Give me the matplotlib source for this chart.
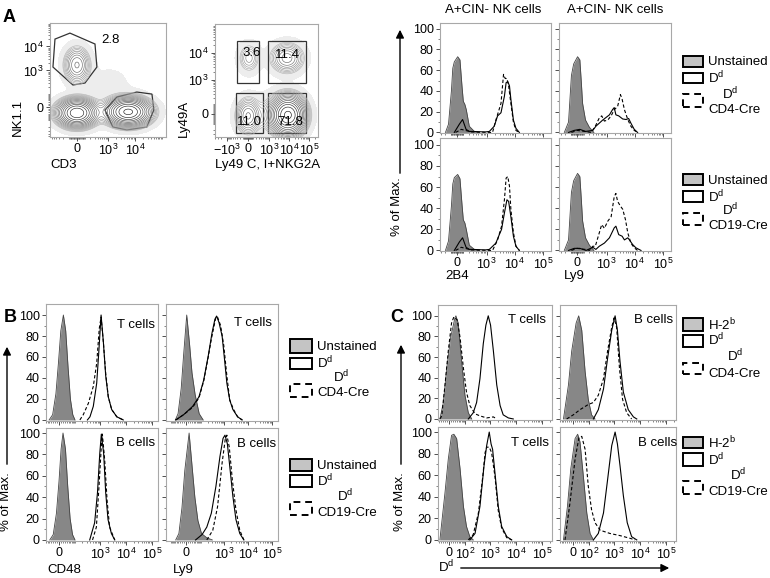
import matplotlib
matplotlib.use("Agg")
import matplotlib.pyplot as plt
from matplotlib.patches import Rectangle, Polygon, FancyArrowPatch
import numpy as np

plt.rcParams["font.family"] = ["Liberation Sans", "DejaVu Sans"]
plt.rcParams["mathtext.fontset"] = "custom"
plt.rcParams["mathtext.rm"] = "Liberation Sans"
plt.rcParams["mathtext.it"] = "Liberation Sans:italic"
plt.rcParams["mathtext.bf"] = "Liberation Sans:bold"
plt.rcParams["font.size"] = 9

# ---------------- data: dot plots (population centres in channel units, spread in decades) ----
DOT1_POP_X = [0, 0, 5560, 1105]
DOT1_POP_Y = [1690, -36, -29, 235]
DOT1_SD_X = [0.26, 0.38, 0.43, 0.6]
DOT1_SD_Y = [0.4, 0.3, 0.3, 0.6]
DOT1_WEIGHT = [9, 40, 50, 1.5]
NK_GATE_X = [-447, -89, 311, 371, 103, -49, -535]
NK_GATE_Y = [20300, 36000, 12650, 1390, 297, 244, 1390]
T_GATE_X = [756, 2110, 11600, 42200, 49600, 27200, 4950, 1490]
T_GATE_Y = [-17.5, 67, 119, 95, -17.5, -200, -270, -200]

DOT2_POP_X = [0, 9000, 21, 8030, 891]
DOT2_POP_Y = [-18, -10, 6460, 6460, 0]
DOT2_SD_X = [0.33, 0.45, 0.3, 0.45, 0.6]
DOT2_SD_Y = [0.35, 0.37, 0.3, 0.3, 0.45]
DOT2_WEIGHT = [11.0, 71.8, 3.6, 11.4, 3]
QUAD_X0 = [-295, 891, -340, 891]
QUAD_X1 = [295, 71600, 490, 71600]
QUAD_Y0 = [773, 773, -264, -264]
QUAD_Y1 = [27600, 27600, 320, 320]
QUAD_LABELS = ["3.6", "11.4", "11.0", "71.8"]

# ---------------- data: panel A histograms (2B4 / Ly9 on A+CIN- NK cells) ----------------
A_2B4_CD4_UNST_X = [-196, -135, -85, -63, -40, 10, 44, 75, 97, 124, 150, 213, 350, 540]
A_2B4_CD4_UNST_Y = [0, 8, 40, 62, 68, 73, 70, 45, 30, 27, 22, 6, 1, 0]
A_2B4_CD4_DD_X = [-40, 35, 85, 146, 215, 302, 890, 1255, 1875, 2470, 3260, 4320, 4960, 5680, 6520, 7320, 9000, 11070, 14630]
A_2B4_CD4_DD_Y = [0, 8, 12.5, 3, 1, 1, 0.5, 1, 6, 16, 19, 35, 48, 49, 45, 32, 12, 4, 0]
A_2B4_CD4_CRE_X = [-21, 63, 135, 255, 1630, 2150, 3260, 4020, 4610, 5300, 6090, 7320, 9000, 11070, 14270]
A_2B4_CD4_CRE_Y = [0, 3, 2, 0.5, 0, 12, 28, 56, 52, 52, 45, 28, 10, 2, 0]

A_LY9_CD4_UNST_X = [-222, -135, -85, -50, 8, 42, 63, 85, 135, 215, 335]
A_LY9_CD4_UNST_Y = [0, 10, 55, 66, 73, 70, 50, 28, 12, 5, 0]
A_LY9_CD4_DD_X = [-135, -42, 42, 135, 302, 400, 725, 1265, 1630, 1875, 2150, 2710, 3760, 4960, 6090, 7320, 9640, 12700]
A_LY9_CD4_DD_Y = [0, 2, 3, 1, 2, 6, 12, 17, 22, 24, 17, 16, 13, 12.5, 13.5, 9, 3, 0]
A_LY9_CD4_CRE_X = [-85, 0, 130, 255, 381, 540, 664, 832, 1100, 1455, 1875, 2470, 3115, 3580, 4320, 5680, 7320, 9640, 12700]
A_LY9_CD4_CRE_Y = [0, 2, 1, 0, 6, 14, 16, 11, 12, 16, 22, 25, 36.5, 32, 22, 12.5, 6, 2, 0]

A_2B4_CD19_UNST_X = [-196, -135, -85, -63, -40, 10, 44, 75, 97, 124, 150, 213, 350, 540]
A_2B4_CD19_UNST_Y = [0, 9, 42, 63, 69, 72, 68, 44, 29, 26, 20, 5, 1, 0]
A_2B4_CD19_DD_X = [-40, 35, 85, 146, 215, 302, 890, 1255, 2150, 2844, 3420, 4320, 5300, 6090, 7320, 9000, 11070, 14630]
A_2B4_CD19_DD_Y = [0, 8, 12, 3, 1, 1, 0.5, 1, 7, 15, 20, 35.5, 48, 46.5, 32, 13.5, 4, 0]
A_2B4_CD19_CRE_X = [-21, 63, 135, 255, 1630, 2470, 3420, 4320, 4960, 5680, 6520, 7320, 9000, 11070, 14630]
A_2B4_CD19_CRE_Y = [0, 3, 2, 0.5, 0, 10, 23, 48, 68.5, 70, 61, 39, 17, 4, 0]

A_LY9_CD19_UNST_X = [-222, -135, -85, -50, 8, 42, 63, 85, 135, 215, 335]
A_LY9_CD19_UNST_Y = [0, 10, 55, 66, 73, 70, 50, 28, 12, 5, 0]
A_LY9_CD19_DD_X = [-135, -42, 42, 146, 302, 400, 540, 832, 1265, 1875, 2150, 2710, 3580, 4320, 5680, 6520, 8400, 11070, 16760]
A_LY9_CD19_DD_Y = [0, 2, 2, 0, 3, 1, 4, 7, 12, 21.4, 23, 15, 13.5, 10, 12, 10, 5.7, 2.5, 0]
A_LY9_CD19_CRE_X = [-85, 0, 130, 215, 302, 381, 540, 664, 832, 1100, 1455, 1875, 2150, 2470, 3115, 3760, 4720, 5680, 7320, 9640, 12700]
A_LY9_CD19_CRE_Y = [0, 2, 1, 0, 4, 4, 16.7, 24.5, 21, 27.7, 32, 51, 54, 46.5, 42, 39, 29, 16.7, 7, 2.5, 0]

# ---------------- data: panel B histograms (CD48 / Ly9) ----------------
B_CD48_T_UNST_X = [-50, -30, -14, -2.3, 8.1, 20, 31.7, 45, 60, 78, 98]
B_CD48_T_UNST_Y = [0, 5, 25, 55, 85, 100, 85, 50, 20, 5, 0]
B_CD48_T_DD_X = [313, 394, 532, 721, 866, 1067, 1311, 1614, 2031, 2742, 4345, 7725]
B_CD48_T_DD_Y = [0, 3, 13, 35, 64, 100, 74, 42, 22, 10, 3, 0]
B_CD48_T_CRE_X = [157, 215, 343, 532, 721, 906, 1067, 1311, 1614, 2031, 2742, 4345, 7725]
B_CD48_T_CRE_Y = [0, 5, 16, 32, 54, 87, 98, 74, 44, 22, 10, 3, 0]

B_LY9_T_UNST_X = [-61, -42, -24, -11.6, 3.5, 17.6, 30.4, 50, 82, 126]
B_LY9_T_UNST_Y = [0, 6, 30, 62, 100, 72, 45, 24, 6, 0]
B_LY9_T_DD_X = [-58, -11.6, 34.5, 80, 133, 210, 305, 404, 475, 599, 810, 1019, 1281, 1690, 2280, 3613, 5600]
B_LY9_T_DD_Y = [0, 5, 13, 22, 38, 61, 83, 96, 99, 93, 80, 58, 35, 19, 10, 3, 0]
B_LY9_T_CRE_X = [-58, -11.6, 34.5, 80, 133, 210, 285, 444, 521, 700, 950, 1281, 1690, 2440, 3613, 5600]
B_LY9_T_CRE_Y = [0, 5, 12, 21, 37, 60, 77, 98, 98, 90, 71, 42, 19, 10, 3, 0]

B_CD48_B_UNST_X = [-46, -27, -11.6, 0, 9.3, 18.2, 30.4, 43, 58, 76, 98]
B_CD48_B_UNST_Y = [0, 5, 25, 55, 85, 100, 85, 50, 20, 5, 0]
B_CD48_B_DD_X = [385, 599, 772, 950, 1092, 1342, 1614, 1985, 2678, 3613]
B_CD48_B_DD_Y = [0, 16, 44, 81, 99, 81, 44, 19, 6, 0]
B_CD48_B_CRE_X = [497, 700, 886, 1092, 1195, 1471, 1811, 2280, 3613]
B_CD48_B_CRE_Y = [0, 12, 50, 88, 99, 75, 38, 12, 0]

B_LY9_B_UNST_X = [-58, -37, -20, -5.8, 15.2, 30.4, 48, 71, 106, 182, 313]
B_LY9_B_UNST_Y = [0, 6, 30, 65, 100, 70, 40, 18, 6, 2, 0]
B_LY9_B_DD_X = [53, 112, 182, 285, 444, 657, 886, 1067, 1342, 1690, 2280, 3076, 4447, 6576]
B_LY9_B_DD_Y = [0, 5, 12, 25, 50, 78, 95, 98, 90, 69, 41, 19, 6, 0]
B_LY9_B_CRE_X = [182, 328, 521, 810, 1092, 1281, 1614, 2177, 3076, 4447, 6576]
B_LY9_B_CRE_Y = [0, 9, 31, 72, 94, 98, 87, 56, 28, 9, 0]

# ---------------- data: panel C histograms (Dd on T / B cells) ----------------
C_T_CD4_UNST_X = [-45, -26, -10, 7.5, 27.8, 33, 46, 69, 98, 136, 187]
C_T_CD4_UNST_Y = [0, 16, 49, 79, 98, 100, 93, 56, 23, 6, 0]
C_T_CD4_DD_X = [136, 215, 292, 394, 532, 672, 829, 1019, 1311, 1770, 2387, 3147, 4990, 7725]
C_T_CD4_DD_Y = [0, 6, 16, 39, 73, 91, 100, 91, 66, 33, 13, 4, 1, 0]
C_T_CD4_CRE_X = [-45, -34.5, -18, -3, 11.6, 22.6, 40, 58, 84, 114, 157, 253, 394, 721, 1311, 1770]
C_T_CD4_CRE_Y = [0, 3, 33, 66, 93, 99, 96, 79, 49, 26, 13, 5, 3, 1, 2, 0]

C_B_CD4_UNST_X = [-48, -21, -5.8, 14, 26.4, 43, 65, 91, 126, 174]
C_B_CD4_UNST_Y = [0, 33, 66, 93, 100, 86, 46, 19, 4, 0]
C_B_CD4_DD_X = [150, 236, 377, 546, 790, 1067, 1311, 1651, 2228, 3450, 5470, 7380]
C_B_CD4_DD_Y = [0, 9, 29, 59, 86, 100, 86, 56, 26, 9, 2, 0]
C_B_CD4_CRE_X = [-30, 1.2, 33, 91, 150, 236, 377, 546, 790, 971, 1223, 1577, 2079, 3006, 4657]
C_B_CD4_CRE_Y = [0, 4, 9, 14, 16, 23, 39, 66, 89, 98, 89, 49, 19, 6, 0]

C_T_CD19_UNST_X = [-45, -18, -3, 11.6, 22.6, 37, 58, 84, 114, 157, 215]
C_T_CD19_UNST_Y = [0, 44, 75, 97, 98, 94, 66, 31, 12.5, 3, 0]
C_T_CD19_DD_X = [157, 253, 394, 570, 721, 906, 1067, 1223, 1505, 2031, 2742, 4345, 6730]
C_T_CD19_DD_Y = [0, 6, 31, 69, 87.5, 100, 89, 84, 62.5, 31, 12.5, 3, 0]
C_T_CD19_CRE_X = [136, 215, 343, 509, 626, 721, 906, 1117, 1505, 2031, 2742, 4345, 6730]
C_T_CD19_CRE_Y = [0, 5, 25, 59, 81, 86, 86, 81, 59, 27, 11, 2, 0]

C_B_CD19_UNST_X = [-48, -26, -10, 9.3, 21.3, 33, 53, 78, 109, 150]
C_B_CD19_UNST_Y = [0, 31, 66, 94, 98, 91, 59, 25, 6, 0]
C_B_CD19_DD_X = [150, 236, 377, 546, 790, 1067, 1311, 1651, 2228, 3147, 4657, 7380]
C_B_CD19_DD_Y = [0, 6, 25, 56, 87.5, 100, 89, 69, 41, 16, 3, 0]
C_B_CD19_CRE_X = [-39, -14, 9.3, 27.8, 43, 65, 91, 126, 174, 279, 672, 1651, 4054, 6280]
C_B_CD19_CRE_Y = [0, 34, 75, 95, 96, 84, 50, 28, 16, 9, 6, 4, 1.5, 0]

Y_TICKS = [0, 20, 40, 60, 80, 100]
LOG_TICKS = [0, 1000, 10000, 100000]
LOG_LABELS = ["0", "$10^3$", "$10^4$", "$10^5$"]
C_TICKS = [0, 100, 1000, 10000, 100000]
C_LABELS = ["0", "$10^2$", "$10^3$", "$10^4$", "$10^5$"]
DD = r"D$^{\mathrm{d}}$"

W, H = 770, 578
fig = plt.figure(figsize=(W / 100, H / 100), dpi=100)
UNST_FILL = "#878787"
SPINE = "#a8a8a8"


def add_box(x0, y0, x1, y1):
    return fig.add_axes([x0 / W, 1 - y1 / H, (x1 - x0) / W, (y1 - y0) / H])


def ftext(x, y, s, **kw):
    kw.setdefault("va", "center")
    kw.setdefault("fontsize", 9.5)
    fig.text(x / W, 1 - y / H, s, **kw)


def to_u(c, w):
    return np.arcsinh(np.asarray(c, dtype=float) / w) / np.log(10)


def to_c(u, w):
    return w * np.sinh(np.asarray(u) * np.log(10))


def minor_list(lo, hi, majors):
    vals = [s * m * 10 ** k for s in (-1, 1) for k in (1, 2, 3, 4, 5) for m in range(1, 10)]
    return sorted(v for v in vals if lo < v < hi and v not in majors)


def style(ax):
    for sp in ax.spines.values():
        sp.set_color(SPINE)
        sp.set_linewidth(0.8)
    ax.tick_params(which="major", length=3, width=0.6, color="#333333", pad=1.5, labelsize=9)
    ax.tick_params(which="minor", length=1.6, width=0.5, color="#555555")


def hist(box, ux, uy, dx, dy, cx, cy, w, xlim, ylim, xt, xtl, left, bottom):
    ax = add_box(*box)
    ax.set_xscale("asinh", linear_width=w)
    ax.fill_between(ux, 0, uy, color=UNST_FILL, lw=0)
    ax.plot(ux, uy, color="#444444", lw=0.6)
    ax.plot(dx, dy, color="black", lw=0.8)
    ax.plot(cx, cy, color="black", lw=0.8, dashes=(3, 2))
    ax.set_xlim(xlim)
    ax.set_ylim(ylim)
    ax.set_xticks(xt)
    ax.set_xticklabels(xtl if bottom else [])
    ax.set_xticks(minor_list(xlim[0], xlim[1], xt), minor=True)
    ax.set_yticks(Y_TICKS)
    ax.set_yticklabels([str(t) for t in Y_TICKS] if left else [])
    ax.set_yticks([10, 30, 50, 70, 90], minor=True)
    style(ax)
    return ax


def dotplot(box, px, py, sx, sy, wt, wx, wy, xlim, ylim):
    ax = add_box(*box)
    ax.set_xscale("asinh", linear_width=wx)
    ax.set_yscale("asinh", linear_width=wy)
    gu = np.linspace(to_u(xlim[0], wx), to_u(xlim[1], wx), 320)
    gv = np.linspace(to_u(ylim[0], wy), to_u(ylim[1], wy), 320)
    U, V = np.meshgrid(gu, gv)
    dens = np.zeros_like(U)
    for x0, y0, a, b, k in zip(px, py, sx, sy, wt):
        dens += k / (a * b) * np.exp(-0.5 * (((U - to_u(x0, wx)) / a) ** 2 + ((V - to_u(y0, wy)) / b) ** 2))
    top = dens.max()
    X, Y = to_c(U, wx), to_c(V, wy)
    ax.contourf(X, Y, dens, levels=[top * 0.006, top * 0.03], colors=["#ededed"])
    levels = top * np.geomspace(0.03, 0.93, 15)
    colors = plt.cm.Greys(np.linspace(0.4, 0.9, 15))
    ax.contour(X, Y, dens, levels=levels, colors=colors, linewidths=0.45)
    ax.set_xlim(xlim)
    ax.set_ylim(ylim)
    style(ax)
    return ax


# ---------------- panel A: dot plots ----------------
ax1 = dotplot((50, 23, 166, 137), DOT1_POP_X, DOT1_POP_Y, DOT1_SD_X, DOT1_SD_Y, DOT1_WEIGHT,
              140, 60, (-693, 140000), (-532, 95000))
ax1.add_patch(Polygon(list(zip(NK_GATE_X, NK_GATE_Y)), closed=True, fill=False, ec="#333333", lw=0.9))
ax1.add_patch(Polygon(list(zip(T_GATE_X, T_GATE_Y)), closed=True, fill=False, ec="#333333", lw=0.9))
ax1.set_xticks([0, 1000, 10000])
ax1.set_xticklabels(["0", "$10^3$", "$10^4$"])
ax1.set_yticks([0, 1000, 10000])
ax1.set_yticklabels(["0", "$10^3$", "$10^4$"])
ax1.set_xticks(minor_list(-693, 140000, [0, 1000, 10000]), minor=True)
ax1.set_yticks(minor_list(-532, 95000, [0, 1000, 10000]), minor=True)
ftext(111, 40, "2.8", ha="center")
ftext(18, 117, "NK1.1", ha="center", rotation=90)
ftext(50, 165, "CD3", ha="left")

ax2 = dotplot((215, 24, 318, 137), DOT2_POP_X, DOT2_POP_Y, DOT2_SD_X, DOT2_SD_Y, DOT2_WEIGHT,
              180, 110, (-4020, 285000), (-383, 118000))
for x0, x1, y0, y1 in zip(QUAD_X0, QUAD_X1, QUAD_Y0, QUAD_Y1):
    ax2.add_patch(Polygon([(x0, y0), (x1, y0), (x1, y1), (x0, y1)], closed=True, fill=False,
                          ec="#333333", lw=0.9))
ax2.set_xticks([-1000, 0, 1000, 10000, 100000])
ax2.set_xticklabels(["$-10^3$", "0", "$10^3$", "$10^4$", "$10^5$"])
ax2.set_yticks([0, 1000, 10000])
ax2.set_yticklabels(["0", "$10^3$", "$10^4$"])
ax2.set_xticks(minor_list(-4020, 285000, [-1000, 0, 1000, 10000, 100000]), minor=True)
ax2.set_yticks(minor_list(-383, 118000, [0, 1000, 10000]), minor=True)
for (lx, ly), lab in zip([(252, 53), (287, 55), (249, 122), (290, 122)], QUAD_LABELS):
    ftext(lx, ly, lab, ha="center")
ftext(184, 118, "Ly49A", ha="center", rotation=90)
ftext(215, 165, "Ly49 C, I+NKG2A", ha="left")

# ---------------- panel A: histograms ----------------
A_XL, A_XR = (-338, 193700), (-371, 193700)
hist((440, 23, 551, 133), A_2B4_CD4_UNST_X, A_2B4_CD4_UNST_Y, A_2B4_CD4_DD_X, A_2B4_CD4_DD_Y,
     A_2B4_CD4_CRE_X, A_2B4_CD4_CRE_Y, 180, A_XL, (-0.5, 105.5), LOG_TICKS, LOG_LABELS, True, False)
hist((559, 23, 671, 133), A_LY9_CD4_UNST_X, A_LY9_CD4_UNST_Y, A_LY9_CD4_DD_X, A_LY9_CD4_DD_Y,
     A_LY9_CD4_CRE_X, A_LY9_CD4_CRE_Y, 180, A_XR, (-0.5, 105.5), LOG_TICKS, LOG_LABELS, False, False)
hist((440, 138, 551, 251), A_2B4_CD19_UNST_X, A_2B4_CD19_UNST_Y, A_2B4_CD19_DD_X, A_2B4_CD19_DD_Y,
     A_2B4_CD19_CRE_X, A_2B4_CD19_CRE_Y, 180, A_XL, (-0.5, 106.5), LOG_TICKS, LOG_LABELS, True, True)
hist((559, 138, 671, 251), A_LY9_CD19_UNST_X, A_LY9_CD19_UNST_Y, A_LY9_CD19_DD_X, A_LY9_CD19_DD_Y,
     A_LY9_CD19_CRE_X, A_LY9_CD19_CRE_Y, 180, A_XR, (-0.5, 106.5), LOG_TICKS, LOG_LABELS, False, True)
ftext(493, 10, "A+CIN- NK cells", ha="center")
ftext(615, 10, "A+CIN- NK cells", ha="center")
ftext(445, 276, "2B4", ha="left")
ftext(564, 276, "Ly9", ha="left")

# ---------------- panel B ----------------
B_XL, B_XR = (-72, 171500), (-168, 176700)
TOP_Y, BOT_Y = (-1, 110.5), (-1, 104.7)
hist((46, 304, 158, 421), B_CD48_T_UNST_X, B_CD48_T_UNST_Y, B_CD48_T_DD_X, B_CD48_T_DD_Y,
     B_CD48_T_CRE_X, B_CD48_T_CRE_Y, 50, B_XL, TOP_Y, LOG_TICKS, LOG_LABELS, True, False)
hist((166, 304, 278, 421), B_LY9_T_UNST_X, B_LY9_T_UNST_Y, B_LY9_T_DD_X, B_LY9_T_DD_Y,
     B_LY9_T_CRE_X, B_LY9_T_CRE_Y, 50, B_XR, TOP_Y, LOG_TICKS, LOG_LABELS, False, False)
hist((46, 428, 158, 541), B_CD48_B_UNST_X, B_CD48_B_UNST_Y, B_CD48_B_DD_X, B_CD48_B_DD_Y,
     B_CD48_B_CRE_X, B_CD48_B_CRE_Y, 50, B_XL, BOT_Y, LOG_TICKS, LOG_LABELS, True, True)
hist((166, 428, 278, 541), B_LY9_B_UNST_X, B_LY9_B_UNST_Y, B_LY9_B_DD_X, B_LY9_B_DD_Y,
     B_LY9_B_CRE_X, B_LY9_B_CRE_Y, 50, B_XR, BOT_Y, LOG_TICKS, LOG_LABELS, False, True)
ftext(155, 325, "T cells", ha="right")
ftext(272, 323, "T cells", ha="right")
ftext(155, 443, "B cells", ha="right")
ftext(276, 444, "B cells", ha="right")
ftext(47, 570, "CD48", ha="left")
ftext(173, 570, "Ly9", ha="left")

# ---------------- panel C ----------------
C_XL, C_XR = (-57, 244000), (-72, 244000)
hist((438, 305, 552, 420), C_T_CD4_UNST_X, C_T_CD4_UNST_Y, C_T_CD4_DD_X, C_T_CD4_DD_Y,
     C_T_CD4_CRE_X, C_T_CD4_CRE_Y, 50, C_XL, TOP_Y, C_TICKS, C_LABELS, True, False)
hist((560, 305, 676, 420), C_B_CD4_UNST_X, C_B_CD4_UNST_Y, C_B_CD4_DD_X, C_B_CD4_DD_Y,
     C_B_CD4_CRE_X, C_B_CD4_CRE_Y, 50, C_XR, TOP_Y, C_TICKS, C_LABELS, False, False)
hist((438, 427, 552, 541), C_T_CD19_UNST_X, C_T_CD19_UNST_Y, C_T_CD19_DD_X, C_T_CD19_DD_Y,
     C_T_CD19_CRE_X, C_T_CD19_CRE_Y, 50, C_XL, BOT_Y, C_TICKS, C_LABELS, True, True)
hist((560, 427, 676, 541), C_B_CD19_UNST_X, C_B_CD19_UNST_Y, C_B_CD19_DD_X, C_B_CD19_DD_Y,
     C_B_CD19_CRE_X, C_B_CD19_CRE_Y, 50, C_XR, BOT_Y, C_TICKS, C_LABELS, False, True)
ftext(546, 320, "T cells", ha="right")
ftext(673, 320, "B cells", ha="right")
ftext(549, 443, "T cells", ha="right")
ftext(677, 443, "B cells", ha="right")
ftext(438, 567, DD, ha="left")

# ---------------- legends ----------------
def legend(bx, bw, gray, white, dash, first, y1, y2, dd_x, y3, cre, y4):
    for (t, b), fc, ls in [(gray, "#c4c4c4", "-"), (white, "white", "-"), (dash, "white", (0, (3.5, 2.5)))]:
        fig.add_artist(Rectangle((bx / W, 1 - b / H), bw / W, (b - t) / H, transform=fig.transFigure,
                                 fc=fc, ec="black", lw=1.4, ls=ls))
    tx = bx + bw + 5
    ftext(tx, y1, first, ha="left")
    ftext(tx, y2, DD, ha="left")
    ftext(dd_x, y3, DD, ha="center")
    ftext(tx, y4, cre, ha="left")


legend(683, 20, (56, 67), (73, 83), (94, 107), "Unstained", 62, 78, 730, 94, "CD4-Cre", 110)
legend(683, 20, (174, 185), (191, 202), (213, 225), "Unstained", 181, 197, 730, 210, "CD19-Cre", 226)
legend(290, 22, (339, 353), (358, 369), (384, 397), "Unstained", 347, 363, 341, 377, "CD4-Cre", 393)
legend(290, 22, (459, 471), (475, 487), (502, 515), "Unstained", 466, 481, 345, 496, "CD19-Cre", 513)
legend(683, 20, (318, 331), (335, 347), (363, 374), r"H-2$^{\mathrm{b}}$", 325, 340, 735, 356, "CD4-Cre", 374)
legend(683, 20, (437, 448), (453, 466), (481, 494), r"H-2$^{\mathrm{b}}$", 443, 460, 738, 475, "CD19-Cre", 492)

# ---------------- axis arrows and panel letters ----------------
def arrow(x0, y0, x1, y1):
    fig.add_artist(FancyArrowPatch((x0 / W, 1 - y0 / H), (x1 / W, 1 - y1 / H), transform=fig.transFigure,
                                   arrowstyle="-|>", mutation_scale=12, lw=1.0, color="black"))


arrow(400, 176, 400, 27)
ftext(397, 207, "% of Max.", ha="center", rotation=90)
arrow(7, 467, 7, 344)
ftext(6, 502, "% of Max.", ha="center", rotation=90)
arrow(401, 467, 401, 342)
ftext(400, 502, "% of Max.", ha="center", rotation=90)
arrow(458, 568, 672, 568)

ftext(9, 18, "A", ha="center", fontsize=13, fontweight="bold")
ftext(10, 318, "B", ha="center", fontsize=13, fontweight="bold")
ftext(397, 318, "C", ha="center", fontsize=13, fontweight="bold")

fig.savefig("out.png", dpi=100)
